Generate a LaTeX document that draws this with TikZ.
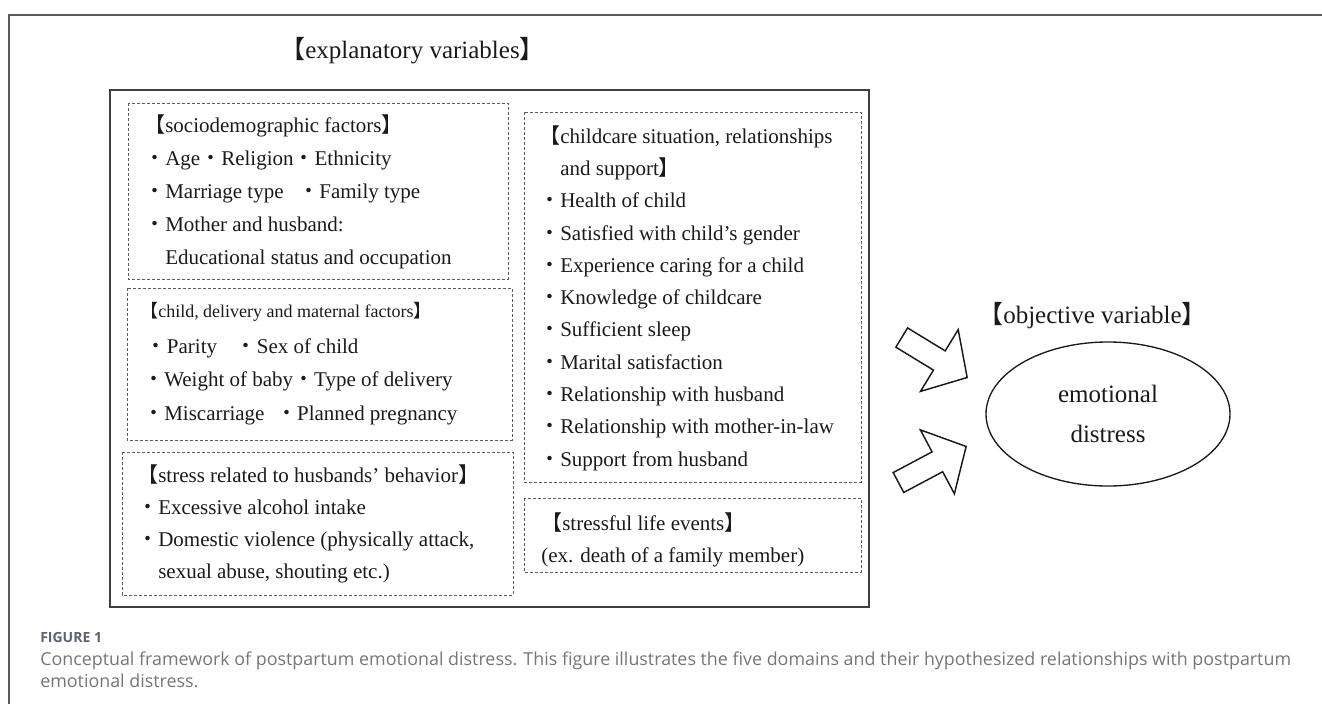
\documentclass[tikz,border=0pt]{standalone}
\usepackage{fontspec}
\setmainfont{Liberation Serif}
\newfontfamily\cjk{Noto Sans CJK JP}
\newfontfamily\capfont{Open Sans}
\usetikzlibrary{shapes.geometric, shapes.arrows}
\definecolor{ink}{HTML}{1A1A1A}
\definecolor{framegray}{HTML}{5A5A5A}
\definecolor{boxgray}{HTML}{404040}
\definecolor{dashgray}{HTML}{5E5E5E}
\definecolor{capblue}{HTML}{5C6370}
\definecolor{capgray}{HTML}{767676}
\tikzset{
every node/.style={inner sep=0pt, text=ink},
frame/.style={draw=framegray, line width=1.1pt},
outerbox/.style={draw=boxgray, line width=1pt},
dashbox/.style={draw=dashgray, line width=0.7pt, dash pattern=on 2.25pt off 1.5pt},
txt/.style={anchor=base west, align=left, font=\fontsize{15.75}{#1}\selectfont},
txt/.default={24.3},
big/.style={font=\fontsize{18.75}{30}\selectfont},
captxt/.style={anchor=base west, text=capgray, font=\capfont\fontsize{13.4}{16.5}\selectfont},
bigarrow/.style={single arrow, draw=ink, line width=1.1pt, fill=white,
  minimum height=57.5pt, inner sep=7.9pt, single arrow head extend=18.7pt,
  single arrow tip angle=96, single arrow head indent=0pt},
}
\newcommand{\lbr}{{\cjk 【}}
\newcommand{\rbr}{{\cjk 】}}
\newcommand{\bul}{{\cjk ・}}
\newcommand{\ind}{\phantom{\bul}}

\begin{document}
\begin{tikzpicture}[x=0.75pt, y=-0.75pt]
    \useasboundingbox (0,0) rectangle (1322,704);
    \draw[frame] (9,704) -- (9,15) -- (1322,15);

    % explanatory side (multi-line nodes sit on their last baseline)
    \node[big, anchor=base west] (expl) at (280,58) {\lbr explanatory variables\rbr};
    \draw[outerbox] (110,90) rectangle (869,607);
    \draw[dashbox] (128,103) rectangle (508,279);
    \draw[dashbox] (127,288) rectangle (512,440);
    \draw[dashbox] (122,452) rectangle (513,595);
    \draw[dashbox] (524,112) rectangle (861,482);
    \draw[dashbox] (524,498) rectangle (861,572);

    \node[txt=24.6] (socio) at (144,264) {\lbr sociodemographic factors\rbr\\
        \bul Age\bul Religion\bul Ethnicity\\
        \bul Marriage type\hspace{0.7em}\bul Family type\\
        \bul Mother and husband:\\
        \ind Educational status and occupation};
    \node[anchor=base west, font=\fontsize{13.5}{16}\selectfont] (childhd) at (140,317)
        {\lbr child, delivery and maternal factors\rbr};
    \node[txt=25.1] (child) at (143,420) {\hspace{2pt}\bul Parity\hspace{0.9em}\bul Sex of child\\
        \bul Weight of baby\bul Type of delivery\\
        \bul Miscarriage\hspace{0.55em}\bul Planned pregnancy};
    \node[txt=24] (husb) at (137,578) {\lbr stress related to husbands’ behavior\rbr\\
        \bul Excessive alcohol intake\\
        \bul Domestic violence (physically attack,\\
        \ind sexual abuse, shouting etc.)};
    \node[txt=24.2] (care) at (539,466) {\lbr childcare situation, relationships\\
        \ind and support\rbr\\
        \bul Health of child\\
        \bul Satisfied with child’s gender\\
        \bul Experience caring for a child\\
        \bul Knowledge of childcare\\
        \bul Sufficient sleep\\
        \bul Marital satisfaction\\
        \bul Relationship with husband\\
        \bul Relationship with mother-in-law\\
        \bul Support from husband};
    \node[txt=24] (life) at (541,562) {\lbr stressful life events\rbr\\
        (ex. death of a family member)};

    % objective side
    \node[big, anchor=base west] (obj) at (978,323) {\lbr objective variable\rbr};
    \node[big, ellipse, draw=ink, line width=1pt, minimum width=183pt, minimum height=108pt,
        align=center] (distress) at (1108,414) {emotional\\distress};
    \node[bigarrow, rotate=-31.4, anchor=tip] (arrU) at (968,378) {};
    \node[bigarrow, rotate=28.05, anchor=tip] (arrD) at (967,446) {};

    % caption
    \node[anchor=base west, text=capblue, font=\capfont\bfseries\fontsize{10.5}{12}\selectfont]
        (figno) at (40,642) {FIGURE 1};
    \node[captxt] (cap1) at (40,665) {Conceptual framework of postpartum emotional distress. This figure illustrates the five domains and their hypothesized relationships with postpartum};
    \node[captxt] (cap2) at (40,687) {emotional distress.};
\end{tikzpicture}
\end{document}
